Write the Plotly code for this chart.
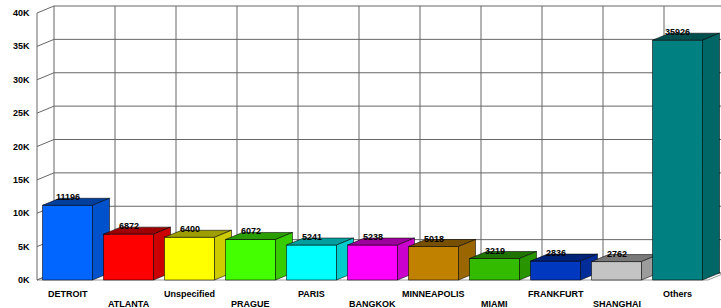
import plotly.graph_objects as go

# ---- data ----
categories = ["DETROIT", "ATLANTA", "Unspecified", "PRAGUE", "PARIS", "BANGKOK",
              "MINNEAPOLIS", "MIAMI", "FRANKFURT", "SHANGHAI", "Others"]
values = [11196, 6872, 6400, 6072, 5241, 5238, 5018, 3219, 2836, 2762, 35926]
tick_vals = [0, 5000, 10000, 15000, 20000, 25000, 30000, 35000, 40000]
tick_text = ["0K", "5K", "10K", "15K", "20K", "25K", "30K", "35K", "40K"]
colors = ["#0066FF", "#FF0000", "#FFFF00", "#44FF00", "#00FFFF", "#FF00FF",
          "#C08000", "#33BB00", "#0038C0", "#C4C4C4", "#008080"]

# ---- geometry (pixel-based scale) ----
W, H = 721, 308
PX_PER_CAT = 61.0
X0_PX = 67.5            # pixel of first category centre
Y0_PX = 280.0           # pixel of value 0 (front)
PX_PER_VAL = 267.0 / 40000
DX = 17 / PX_PER_CAT    # depth offset in x units
DY = 7 / PX_PER_VAL     # depth offset in value units
HALF = 25 / PX_PER_CAT  # half bar width

xr = [-X0_PX / PX_PER_CAT, (W - X0_PX) / PX_PER_CAT]
yr = [-(H - Y0_PX) / PX_PER_VAL, Y0_PX / PX_PER_VAL]


def shade(hexc, f):
    h = hexc.lstrip("#")
    r, g, b = (int(h[i:i + 2], 16) for i in (0, 2, 4))
    return "rgb(%d,%d,%d)" % (int(r * f), int(g * f), int(b * f))


fig = go.Figure()
grid_col = "#666666"
n = len(categories)
left_f, right_f = -0.5, n - 0.5
left_b, right_b = left_f + DX, right_f + DX
top_v = tick_vals[-1]


def line(xs, ys, color=grid_col, width=1):
    fig.add_trace(go.Scatter(x=xs, y=ys, mode="lines", line=dict(color=color, width=width),
                             hoverinfo="skip", showlegend=False))


def poly(xs, ys, fill, lc="rgba(0,0,0,0.55)"):
    fig.add_trace(go.Scatter(x=xs + [xs[0]], y=ys + [ys[0]], mode="lines", fill="toself",
                             fillcolor=fill, line=dict(color=lc, width=1),
                             hoverinfo="skip", showlegend=False))


# floor
poly([left_f, right_f, right_b, left_b], [0, 0, DY, DY], "white", "#9a9a9a")

# back wall horizontal gridlines + left wall diagonals
for v in tick_vals:
    line([left_f, left_b, right_b], [v, v + DY, v + DY])
# back wall vertical gridlines
for k in range(n + 1):
    xb = left_f + k + DX
    line([xb, xb], [DY, top_v + DY])
# left wall front edge
line([left_f, left_f], [0, top_v])

# bars, left to right
for i, (v, c) in enumerate(zip(values, colors)):
    x1, x2 = i - HALF, i + HALF
    poly([x1, x2, x2, x1], [0, 0, v, v], c)
    poly([x1, x2, x2 + DX, x1 + DX], [v, v, v + DY, v + DY], shade(c, 0.62))
    poly([x2, x2 + DX, x2 + DX, x2], [0, DY, v + DY, v], shade(c, 0.8))

FONT = dict(family="Arial", size=9, color="black", weight="bold")
annotations = []
for i, v in enumerate(values):
    annotations.append(dict(x=i, y=v + DY, text=str(v), showarrow=False,
                            xanchor="center", yanchor="middle", yshift=1, font=FONT))
for i, c in enumerate(categories):
    annotations.append(dict(x=i, y=0, text=c, showarrow=False, xanchor="center",
                            yanchor="middle", yshift=-13.5 if i % 2 == 0 else -23.5,
                            font=FONT))
for v, t in zip(tick_vals, tick_text):
    annotations.append(dict(x=left_f, y=v, text=t, showarrow=False, xanchor="right",
                            yanchor="middle", xshift=-5, yshift=0, font=FONT))

fig.update_layout(
    width=W, height=H, margin=dict(l=0, r=0, t=0, b=0),
    paper_bgcolor="white", plot_bgcolor="white",
    xaxis=dict(range=xr, visible=False, fixedrange=True),
    yaxis=dict(range=yr, visible=False, fixedrange=True),
    annotations=annotations, showlegend=False,
)
fig.write_html("out.html", config={"displayModeBar": False},
               post_script="document.body.style.margin='0';document.body.style.overflow='hidden';")
